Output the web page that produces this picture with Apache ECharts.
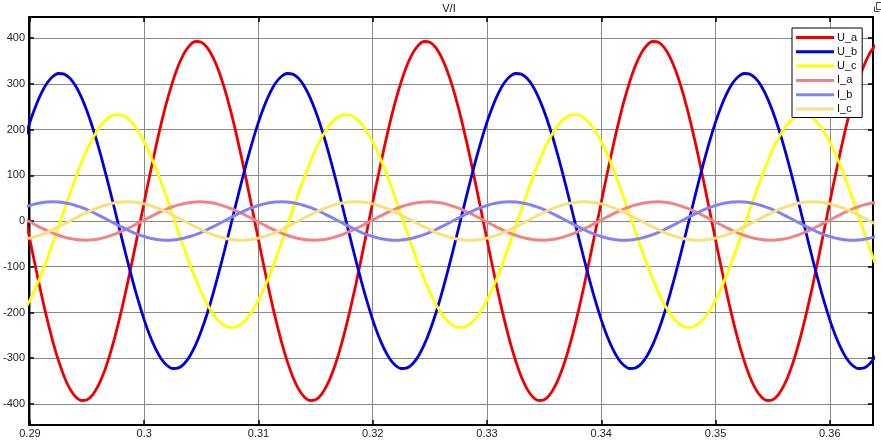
<!DOCTYPE html>
<html>
<head>
<meta charset="utf-8">
<script src="https://cdn.jsdelivr.net/npm/echarts@6/dist/echarts.min.js"></script>
<style>
html,body{margin:0;padding:0;background:#fff;}
#chart{width:881px;height:443px;}
</style>
</head>
<body>
<div id="chart"></div>
<script>
// time samples (s)
var times = [
0.2890,0.2895,0.2900,0.2905,0.2910,0.2915,0.2920,0.2925,0.2930,0.2935,
0.2940,0.2945,0.2950,0.2955,0.2960,0.2965,0.2970,0.2975,0.2980,0.2985,
0.2990,0.2995,0.3000,0.3005,0.3010,0.3015,0.3020,0.3025,0.3030,0.3035,
0.3040,0.3045,0.3050,0.3055,0.3060,0.3065,0.3070,0.3075,0.3080,0.3085,
0.3090,0.3095,0.3100,0.3105,0.3110,0.3115,0.3120,0.3125,0.3130,0.3135,
0.3140,0.3145,0.3150,0.3155,0.3160,0.3165,0.3170,0.3175,0.3180,0.3185,
0.3190,0.3195,0.3200,0.3205,0.3210,0.3215,0.3220,0.3225,0.3230,0.3235,
0.3240,0.3245,0.3250,0.3255,0.3260,0.3265,0.3270,0.3275,0.3280,0.3285,
0.3290,0.3295,0.3300,0.3305,0.3310,0.3315,0.3320,0.3325,0.3330,0.3335,
0.3340,0.3345,0.3350,0.3355,0.3360,0.3365,0.3370,0.3375,0.3380,0.3385,
0.3390,0.3395,0.3400,0.3405,0.3410,0.3415,0.3420,0.3425,0.3430,0.3435,
0.3440,0.3445,0.3450,0.3455,0.3460,0.3465,0.3470,0.3475,0.3480,0.3485,
0.3490,0.3495,0.3500,0.3505,0.3510,0.3515,0.3520,0.3525,0.3530,0.3535,
0.3540,0.3545,0.3550,0.3555,0.3560,0.3565,0.3570,0.3575,0.3580,0.3585,
0.3590,0.3595,0.3600,0.3605,0.3610,0.3615,0.3620,0.3625,0.3630,0.3635,
0.3640];

var U_a = [
81.7,20.6,-41.1,-101.7,-159.8,-214.0,-263.0,-305.4,-340.3,-366.9,-384.4,-392.4,-390.8,-379.6,-359.0,-329.6,-292.0,-247.3,-196.5,-140.9,
-81.7,-20.6,41.1,101.7,159.8,214.0,263.0,305.4,340.3,366.9,384.4,392.4,390.8,379.6,359.0,329.6,292.0,247.3,196.5,140.9,
81.7,20.6,-41.1,-101.7,-159.8,-214.0,-263.0,-305.4,-340.3,-366.9,-384.4,-392.4,-390.8,-379.6,-359.0,-329.6,-292.0,-247.3,-196.5,-140.9,
-81.7,-20.6,41.1,101.7,159.8,214.0,263.0,305.4,340.3,366.9,384.4,392.4,390.8,379.6,359.0,329.6,292.0,247.3,196.5,140.9,
81.7,20.6,-41.1,-101.7,-159.8,-214.0,-263.0,-305.4,-340.3,-366.9,-384.4,-392.4,-390.8,-379.6,-359.0,-329.6,-292.0,-247.3,-196.5,-140.9,
-81.7,-20.6,41.1,101.7,159.8,214.0,263.0,305.4,340.3,366.9,384.4,392.4,390.8,379.6,359.0,329.6,292.0,247.3,196.5,140.9,
81.7,20.6,-41.1,-101.7,-159.8,-214.0,-263.0,-305.4,-340.3,-366.9,-384.4,-392.4,-390.8,-379.6,-359.0,-329.6,-292.0,-247.3,-196.5,-140.9,
-81.7,-20.6,41.1,101.7,159.8,214.0,263.0,305.4,340.3,366.9,384.4];

var U_b = [
131.4,175.9,216.1,251.0,279.7,301.6,315.9,322.5,321.2,312.0,295.1,270.9,240.0,203.3,161.5,115.8,67.2,16.9,-33.8,-83.6,
-131.4,-175.9,-216.1,-251.0,-279.7,-301.6,-315.9,-322.5,-321.2,-312.0,-295.1,-270.9,-240.0,-203.3,-161.5,-115.8,-67.2,-16.9,33.8,83.6,
131.4,175.9,216.1,251.0,279.7,301.6,315.9,322.5,321.2,312.0,295.1,270.9,240.0,203.3,161.5,115.8,67.2,16.9,-33.8,-83.6,
-131.4,-175.9,-216.1,-251.0,-279.7,-301.6,-315.9,-322.5,-321.2,-312.0,-295.1,-270.9,-240.0,-203.3,-161.5,-115.8,-67.2,-16.9,33.8,83.6,
131.4,175.9,216.1,251.0,279.7,301.6,315.9,322.5,321.2,312.0,295.1,270.9,240.0,203.3,161.5,115.8,67.2,16.9,-33.8,-83.6,
-131.4,-175.9,-216.1,-251.0,-279.7,-301.6,-315.9,-322.5,-321.2,-312.0,-295.1,-270.9,-240.0,-203.3,-161.5,-115.8,-67.2,-16.9,33.8,83.6,
131.4,175.9,216.1,251.0,279.7,301.6,315.9,322.5,321.2,312.0,295.1,270.9,240.0,203.3,161.5,115.8,67.2,16.9,-33.8,-83.6,
-131.4,-175.9,-216.1,-251.0,-279.7,-301.6,-315.9,-322.5,-321.2,-312.0,-295.1];

var U_c = [
-212.8,-195.4,-173.1,-146.6,-116.5,-83.5,-48.4,-12.2,24.3,60.3,94.8,126.9,155.9,181.1,201.8,217.5,227.9,232.7,231.7,225.1,
212.8,195.4,173.1,146.6,116.5,83.5,48.4,12.2,-24.3,-60.3,-94.8,-126.9,-155.9,-181.1,-201.8,-217.5,-227.9,-232.7,-231.7,-225.1,
-212.8,-195.4,-173.1,-146.6,-116.5,-83.5,-48.4,-12.2,24.3,60.3,94.8,126.9,155.9,181.1,201.8,217.5,227.9,232.7,231.7,225.1,
212.8,195.4,173.1,146.6,116.5,83.5,48.4,12.2,-24.3,-60.3,-94.8,-126.9,-155.9,-181.1,-201.8,-217.5,-227.9,-232.7,-231.7,-225.1,
-212.8,-195.4,-173.1,-146.6,-116.5,-83.5,-48.4,-12.2,24.3,60.3,94.8,126.9,155.9,181.1,201.8,217.5,227.9,232.7,231.7,225.1,
212.8,195.4,173.1,146.6,116.5,83.5,48.4,12.2,-24.3,-60.3,-94.8,-126.9,-155.9,-181.1,-201.8,-217.5,-227.9,-232.7,-231.7,-225.1,
-212.8,-195.4,-173.1,-146.6,-116.5,-83.5,-48.4,-12.2,24.3,60.3,94.8,126.9,155.9,181.1,201.8,217.5,227.9,232.7,231.7,225.1,
212.8,195.4,173.1,146.6,116.5,83.5,48.4,12.2,-24.3,-60.3,-94.8];

var I_a = [
10.9,4.4,-2.2,-8.7,-15.1,-21.0,-26.4,-31.2,-35.2,-38.4,-40.6,-41.8,-41.9,-41.1,-39.2,-36.4,-32.6,-28.1,-22.9,-17.1,
-10.9,-4.4,2.2,8.7,15.1,21.0,26.4,31.2,35.2,38.4,40.6,41.8,41.9,41.1,39.2,36.4,32.6,28.1,22.9,17.1,
10.9,4.4,-2.2,-8.7,-15.1,-21.0,-26.4,-31.2,-35.2,-38.4,-40.6,-41.8,-41.9,-41.1,-39.2,-36.4,-32.6,-28.1,-22.9,-17.1,
-10.9,-4.4,2.2,8.7,15.1,21.0,26.4,31.2,35.2,38.4,40.6,41.8,41.9,41.1,39.2,36.4,32.6,28.1,22.9,17.1,
10.9,4.4,-2.2,-8.7,-15.1,-21.0,-26.4,-31.2,-35.2,-38.4,-40.6,-41.8,-41.9,-41.1,-39.2,-36.4,-32.6,-28.1,-22.9,-17.1,
-10.9,-4.4,2.2,8.7,15.1,21.0,26.4,31.2,35.2,38.4,40.6,41.8,41.9,41.1,39.2,36.4,32.6,28.1,22.9,17.1,
10.9,4.4,-2.2,-8.7,-15.1,-21.0,-26.4,-31.2,-35.2,-38.4,-40.6,-41.8,-41.9,-41.1,-39.2,-36.4,-32.6,-28.1,-22.9,-17.1,
-10.9,-4.4,2.2,8.7,15.1,21.0,26.4,31.2,35.2,38.4,40.6];

var I_b = [
24.7,29.7,34.0,37.4,39.9,41.5,42.0,41.5,39.9,37.4,34.0,29.7,24.7,19.1,13.0,6.6,0,-6.6,-13.0,-19.1,
-24.7,-29.7,-34.0,-37.4,-39.9,-41.5,-42.0,-41.5,-39.9,-37.4,-34.0,-29.7,-24.7,-19.1,-13.0,-6.6,0,6.6,13.0,19.1,
24.7,29.7,34.0,37.4,39.9,41.5,42.0,41.5,39.9,37.4,34.0,29.7,24.7,19.1,13.0,6.6,0,-6.6,-13.0,-19.1,
-24.7,-29.7,-34.0,-37.4,-39.9,-41.5,-42.0,-41.5,-39.9,-37.4,-34.0,-29.7,-24.7,-19.1,-13.0,-6.6,0,6.6,13.0,19.1,
24.7,29.7,34.0,37.4,39.9,41.5,42.0,41.5,39.9,37.4,34.0,29.7,24.7,19.1,13.0,6.6,0,-6.6,-13.0,-19.1,
-24.7,-29.7,-34.0,-37.4,-39.9,-41.5,-42.0,-41.5,-39.9,-37.4,-34.0,-29.7,-24.7,-19.1,-13.0,-6.6,0,6.6,13.0,19.1,
24.7,29.7,34.0,37.4,39.9,41.5,42.0,41.5,39.9,37.4,34.0,29.7,24.7,19.1,13.0,6.6,0,-6.6,-13.0,-19.1,
-24.7,-29.7,-34.0,-37.4,-39.9,-41.5,-42.0,-41.5,-39.9,-37.4,-34.0];

var I_c = [
-41.5,-39.9,-37.4,-34.0,-29.7,-24.7,-19.1,-13.0,-6.6,0,6.6,13.0,19.1,24.7,29.7,34.0,37.4,39.9,41.5,42.0,
41.5,39.9,37.4,34.0,29.7,24.7,19.1,13.0,6.6,0,-6.6,-13.0,-19.1,-24.7,-29.7,-34.0,-37.4,-39.9,-41.5,-42.0,
-41.5,-39.9,-37.4,-34.0,-29.7,-24.7,-19.1,-13.0,-6.6,0,6.6,13.0,19.1,24.7,29.7,34.0,37.4,39.9,41.5,42.0,
41.5,39.9,37.4,34.0,29.7,24.7,19.1,13.0,6.6,0,-6.6,-13.0,-19.1,-24.7,-29.7,-34.0,-37.4,-39.9,-41.5,-42.0,
-41.5,-39.9,-37.4,-34.0,-29.7,-24.7,-19.1,-13.0,-6.6,0,6.6,13.0,19.1,24.7,29.7,34.0,37.4,39.9,41.5,42.0,
41.5,39.9,37.4,34.0,29.7,24.7,19.1,13.0,6.6,0,-6.6,-13.0,-19.1,-24.7,-29.7,-34.0,-37.4,-39.9,-41.5,-42.0,
-41.5,-39.9,-37.4,-34.0,-29.7,-24.7,-19.1,-13.0,-6.6,0,6.6,13.0,19.1,24.7,29.7,34.0,37.4,39.9,41.5,42.0,
41.5,39.9,37.4,34.0,29.7,24.7,19.1,13.0,6.6,0,-6.6];

var seriesNames = ['U_a','U_b','U_c','I_a','I_b','I_c'];
var seriesData = [U_a, U_b, U_c, I_a, I_b, I_c];
var seriesColors = ['#ee0000','#0000dd','#ffff00','#f08484','#8282f2','#f8e07c'];
var titleText = 'V/I';

var FONT = '"Liberation Sans", Arial, sans-serif';
var chart = echarts.init(document.getElementById('chart'), null, {renderer:'canvas'});

function pairs(arr){ return times.map(function(t,i){ return [t, arr[i]]; }); }

var xMin = 0.28992, xMax = 0.36378, yMin = -446, yMax = 446;

var option = {
  animation: false,
  backgroundColor: '#fff',
  title: {
    text: titleText, left: 449, top: 3, textAlign: 'center', padding: 0,
    textStyle: {fontSize: 11, fontWeight: 'normal', color: '#111', fontFamily: FONT}
  },
  grid: {left: 26, right: 8, top: 17, bottom: 18, containLabel: false},
  legend: {
    orient: 'vertical', left: 792, top: 28,
    data: seriesNames, icon: 'rect', itemWidth: 38, itemHeight: 3, itemGap: 3.3,
    backgroundColor: '#fff', borderColor: '#000', borderWidth: 1,
    padding: [4, 5, 3, 4],
    textStyle: {fontSize: 11, lineHeight: 11, color: '#111', fontFamily: FONT, padding: [0,0,0,-2]}
  },
  xAxis: [{
    type: 'value', min: xMin, max: xMax, splitNumber: 7, position: 'bottom',
    axisLine: {show: true, onZero: false, lineStyle: {color: '#000', width: 2}},
    axisTick: {show: true, inside: true, length: 5, lineStyle: {color: '#000', width: 1.5}},
    axisLabel: {show: true, showMinLabel: false, showMaxLabel: false, margin: 3, fontSize: 11, color: '#222', fontFamily: FONT},
    splitLine: {show: true, lineStyle: {color: '#888', width: 1}}
  }, {
    type: 'value', min: xMin, max: xMax, splitNumber: 7, position: 'top',
    axisLine: {show: true, onZero: false, lineStyle: {color: '#000', width: 2}},
    axisTick: {show: true, inside: true, length: 5, lineStyle: {color: '#000', width: 1.5}},
    axisLabel: {show: false},
    splitLine: {show: false}
  }],
  yAxis: [{
    type: 'value', min: yMin, max: yMax, splitNumber: 9, position: 'left',
    axisLine: {show: true, onZero: false, lineStyle: {color: '#000', width: 2}},
    axisTick: {show: true, inside: true, length: 5, lineStyle: {color: '#000', width: 1.5}},
    axisLabel: {show: true, showMinLabel: false, showMaxLabel: false, margin: 4, fontSize: 11, color: '#222', fontFamily: FONT},
    splitLine: {show: true, lineStyle: {color: '#888', width: 1}}
  }, {
    type: 'value', min: yMin, max: yMax, splitNumber: 9, position: 'right',
    axisLine: {show: true, onZero: false, lineStyle: {color: '#000', width: 2}},
    axisTick: {show: true, inside: true, length: 5, lineStyle: {color: '#000', width: 1.5}},
    axisLabel: {show: false},
    splitLine: {show: false}
  }],
  graphic: [{
    type: 'group', left: 872, top: 0, silent: true,
    children: [
      {type: 'rect', shape: {x: 2, y: -3, width: 6, height: 7}, style: {fill: 'none', stroke: '#444', lineWidth: 1}},
      {type: 'polyline', shape: {points: [[0,1],[0,6],[5,6]]}, style: {fill: 'none', stroke: '#444', lineWidth: 1}}
    ]
  }],
  series: seriesNames.map(function(name, i){
    return {
      name: name, type: 'line', xAxisIndex: 0, yAxisIndex: 0,
      data: pairs(seriesData[i]), smooth: 0.3, symbol: 'none', showSymbol: false,
      clip: true,
      lineStyle: {color: seriesColors[i], width: i < 3 ? 2.8 : 3},
      itemStyle: {color: seriesColors[i]}
    };
  })
};
chart.setOption(option);
</script>
</body>
</html>
